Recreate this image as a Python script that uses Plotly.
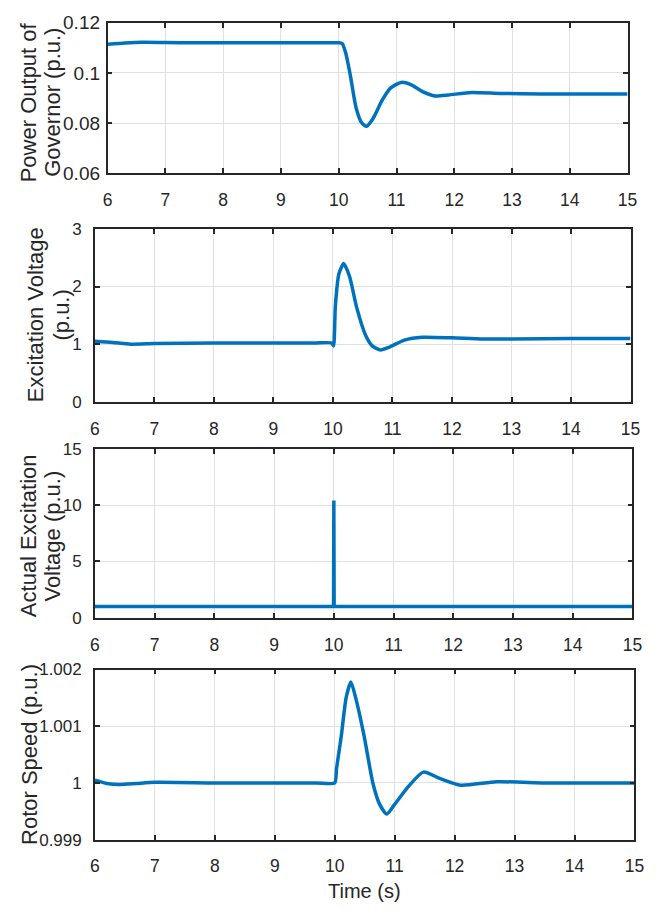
import plotly.graph_objects as go

# ---- data ----
t_gov = [6.0, 6.3, 6.6, 7.0, 7.5, 8.0, 9.0, 9.7, 10.0, 10.06, 10.12, 10.2, 10.3, 10.4, 10.48,
         10.6, 10.75, 10.9, 11.08, 11.25, 11.45, 11.67, 11.9, 12.3, 12.8, 13.5, 14.2, 15.0]
p_gov = [0.1114, 0.1119, 0.1122, 0.1121, 0.1120, 0.1120, 0.1120, 0.1120, 0.1120, 0.1117, 0.1080,
         0.0991, 0.0861, 0.0800, 0.0787, 0.0820, 0.0890, 0.0940, 0.0962, 0.0953, 0.0925,
         0.0908, 0.0912, 0.0922, 0.0918, 0.0916, 0.0916, 0.0916]

t_exc = [6.0, 6.3, 6.6, 7.0, 8.0, 9.0, 9.7, 9.98, 10.01, 10.04, 10.1, 10.18, 10.28, 10.4, 10.55,
         10.66, 10.8, 10.95, 11.2, 11.5, 12.0, 12.5, 13.0, 14.0, 15.0]
v_exc = [1.05, 1.03, 1.00, 1.01, 1.02, 1.02, 1.02, 1.02, 0.97, 1.66, 2.22, 2.40, 2.17, 1.63, 1.15,
         0.97, 0.90, 0.95, 1.07, 1.12, 1.11, 1.09, 1.09, 1.10, 1.10]

t_act = [6.0, 9.995, 10.0, 10.005, 15.0]
v_act = [1.0, 1.0, 10.4, 1.0, 1.0]

t_spd = [6.0, 6.2, 6.4, 6.7, 7.0, 8.0, 9.0, 9.7, 10.0, 10.03, 10.11, 10.19, 10.27, 10.35, 10.49,
         10.64, 10.75, 10.87, 11.0, 11.2, 11.48, 11.75, 12.1, 12.7, 13.5, 14.2, 15.0]
w_spd = [1.00005, 0.99999, 0.99997, 0.99999, 1.00001, 1.0, 1.0, 1.0, 1.0, 1.00025, 1.00083,
         1.0015, 1.00178, 1.0015, 1.00083, 0.99998, 0.99962, 0.99945, 0.99962, 0.9999, 1.00019,
         1.00008, 0.99996, 1.00002, 1.0, 1.0, 1.0]

x_ticks = [6, 7, 8, 9, 10, 11, 12, 13, 14, 15]
y1_ticks = [0.06, 0.08, 0.1, 0.12]
y1_text = ["0.06", "0.08", "0.1", "0.12"]
y2_ticks = [0, 1, 2, 3]
y3_ticks = [0, 5, 10, 15]
y4_ticks = [0.999, 1.0, 1.001, 1.002]
y4_text = ["0.999", "1", "1.001", "1.002"]

title_lines = [["Power Output of", "Governor (p.u.)"],
               ["Excitation Voltage", "(p.u.)"],
               ["Actual Excitation", "Voltage (p.u.)"],
               ["Rotor Speed (p.u.)"]]

# ---- layout geometry (pixels) ----
W, H = 664, 917
boxes = [(105, 637, 13, 167), (92, 640, 224, 401), (92, 642, 449, 622), (92, 644, 675, 849)]
title_line_x = [[24, 49], [32, 58], [24, 49], [25]]
title_y = [94, 312, 538, 762]
ytick_size = [19, 17, 17, 17]

BLUE = "#0072BD"
AX = "#262626"
FONT = "Liberation Sans, Arial, sans-serif"

fig = go.Figure()
series = [(t_gov, p_gov, "spline"), (t_exc, v_exc, "spline"), (t_act, v_act, "linear"), (t_spd, w_spd, "spline")]
for i, (tx, vy, shp) in enumerate(series):
    s = "" if i == 0 else str(i + 1)
    fig.add_trace(go.Scatter(x=tx, y=vy, mode="lines", xaxis="x" + s, yaxis="y" + s,
                             line=dict(color=BLUE, width=3.5, shape=shp, smoothing=0.6 if shp == "spline" else None),
                             showlegend=False, hoverinfo="skip"))

yranges = [(0.06, 0.12), (0, 3), (0, 15), (0.999, 1.002)]
yticks = [(y1_ticks, y1_text), (y2_ticks, [str(v) for v in y2_ticks]),
          (y3_ticks, [str(v) for v in y3_ticks]), (y4_ticks, y4_text)]

layout = dict(width=W, height=H, margin=dict(l=0, r=0, t=0, b=0),
              paper_bgcolor="white", plot_bgcolor="white",
              font=dict(family=FONT, size=18, color=AX))
annotations = []
for i, (l, r, t, b) in enumerate(boxes):
    s = "" if i == 0 else str(i + 1)
    common = dict(showline=True, linecolor=AX, linewidth=1.6, mirror="ticks",
                  ticks="inside", ticklen=5, tickwidth=1.5, tickcolor=AX,
                  showgrid=True, gridcolor="#e0e0e0", gridwidth=1, zeroline=False)
    layout["xaxis" + s] = dict(domain=[l / W, r / W], range=[6, 15], anchor="y" + s,
                               tickvals=x_ticks, ticktext=[str(v) for v in x_ticks],
                               ticklabelstandoff=10,
                               tickfont=dict(family=FONT, size=17.5, color=AX), **common)
    layout["yaxis" + s] = dict(domain=[1 - b / H, 1 - t / H], range=list(yranges[i]), anchor="x" + s,
                               tickvals=yticks[i][0], ticktext=yticks[i][1],
                               ticklabelstandoff=2 if i == 0 else 8,
                               tickfont=dict(family=FONT, size=ytick_size[i], color=AX), **common)
    for txt, xc in zip(title_lines[i], title_line_x[i]):
        annotations.append(dict(text=txt, xref="paper", yref="paper",
                                x=xc / W, y=1 - title_y[i] / H, textangle=-90,
                                showarrow=False, xanchor="center", yanchor="middle",
                                font=dict(family=FONT, size=22, color=AX)))

annotations.append(dict(text="Time (s)", xref="paper", yref="paper", x=368 / W, y=1 - 902 / H,
                        showarrow=False, xanchor="center", yanchor="middle",
                        font=dict(family=FONT, size=20, color=AX)))
layout["annotations"] = annotations
fig.update_layout(**layout)
fig.write_html("out.html", config={"displayModeBar": False},
               post_script="document.body.style.margin='0';document.body.style.overflow='hidden';")
